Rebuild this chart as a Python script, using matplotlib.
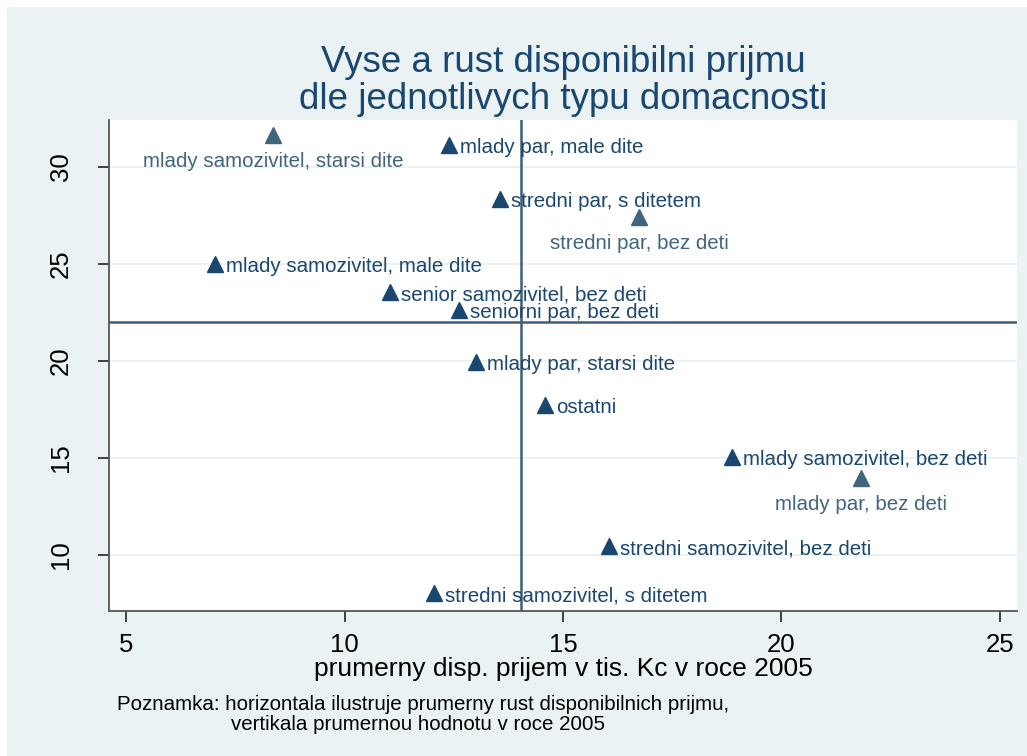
import matplotlib.pyplot as plt
from matplotlib.patches import Rectangle

# household types: income 2005 (x) vs growth of disposable income (y)
labels = ['mlady samozivitel, starsi dite', 'mlady par, male dite',
          'stredni par, s ditetem', 'stredni par, bez deti',
          'mlady samozivitel, male dite', 'senior samozivitel, bez deti',
          'seniorni par, bez deti', 'mlady par, starsi dite', 'ostatni',
          'mlady samozivitel, bez deti', 'mlady par, bez deti',
          'stredni samozivitel, bez deti', 'stredni samozivitel, s ditetem']
prijem = [8.36, 12.39, 13.56, 16.74, 7.03, 11.04, 12.62, 13.01, 14.59,
          18.87, 21.82, 16.06, 12.04]
rust = [31.65, 31.13, 28.35, 27.42, 25.0, 23.56, 22.63, 19.95, 17.73,
        15.05, 13.97, 10.46, 8.04]
# labels placed below the marker (the second group in the original)
below = [True, False, False, True, False, False, False, False, False,
         False, True, False, False]
mean_rust = 22.0
mean_prijem = 14.04

xticks = [5, 10, 15, 20, 25]
yticks = [10, 15, 20, 25, 30]

plt.rcParams['font.family'] = ['Liberation Sans', 'DejaVu Sans']

bg = '#eaf2f3'
c1 = '#1a476f'
c2 = '#40657f'
line_c = '#3f5e78'

fig = plt.figure(figsize=(10.27, 7.56), dpi=100, facecolor='white')
fig.patches.append(Rectangle((7 / 1027, 0), 1, 1 - 7 / 756, transform=fig.transFigure,
                             facecolor=bg, edgecolor='none', zorder=-10))

ax = fig.add_axes([109 / 1027, 1 - 611 / 756, (1017 - 109) / 1027, (611 - 120) / 756])
ax.set_facecolor('white')
ax.set_xlim(4.61, 25.39)
ax.set_ylim(7.11, 32.42)

for yt in yticks:
    ax.axhline(yt, color=bg, lw=1.5, zorder=0)

ax.axhline(mean_rust, color=line_c, lw=1.8, zorder=1)
ax.axvline(mean_prijem, color=line_c, lw=1.8, zorder=1)

for lab, x, y, b in zip(labels, prijem, rust, below):
    col = c2 if b else c1
    ax.plot(x, y, marker='^', ms=11.5, color=col, ls='none', zorder=3)
    if b:
        ax.annotate(lab, (x, y), xytext=(0, -12), textcoords='offset points',
                    ha='center', va='top', fontsize=14.8, color=col, zorder=4)
    else:
        ax.annotate(lab, (x, y), xytext=(8, -2), textcoords='offset points',
                    ha='left', va='center', fontsize=14.8, color=col, zorder=4)

ax.set_xticks(xticks)
ax.set_yticks(yticks)
ax.tick_params(axis='both', direction='out', length=8, width=1.3, color='#333333',
               labelsize=18.5)
ax.tick_params(axis='x', pad=7.5)
ax.tick_params(axis='y', pad=18)
for lbl in ax.get_yticklabels():
    lbl.set_rotation(90)
    lbl.set_va('center')
for side in ['top', 'right']:
    ax.spines[side].set_visible(False)
for side in ['left', 'bottom']:
    ax.spines[side].set_color('#555555')
    ax.spines[side].set_linewidth(1.3)

ax.set_xlabel('prumerny disp. prijem v tis. Kc v roce 2005', fontsize=19, labelpad=0)

fig.text(563 / 1027, 1 - 81 / 756, 'Vyse a rust disponibilni prijmu\ndle jednotlivych typu domacnosti',
         ha='center', va='center', fontsize=26.5, color=c1, linespacing=1.05)

fig.text(117 / 1027, 1 - 704 / 756, 'Poznamka: horizontala ilustruje prumerny rust disponibilnich prijmu,',
         ha='left', va='center', fontsize=14.8)
fig.text(231 / 1027, 1 - 724 / 756, 'vertikala prumernou hodnotu v roce 2005',
         ha='left', va='center', fontsize=14.8)

fig.savefig('out.png', dpi=100, facecolor='white')
